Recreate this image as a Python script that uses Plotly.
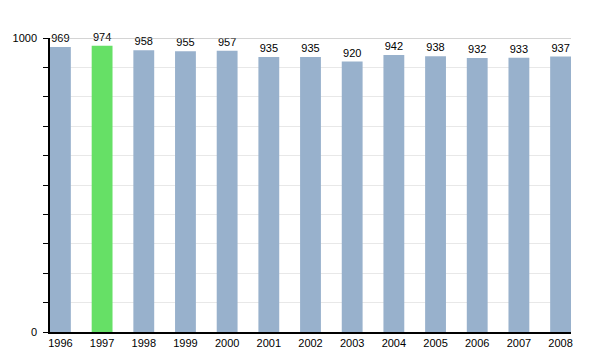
import plotly.graph_objects as go

years = ["1996","1997","1998","1999","2000","2001","2002","2003","2004","2005","2006","2007","2008"]
values = [969, 974, 958, 955, 957, 935, 935, 920, 942, 938, 932, 933, 937]
highlight = "1997"

colors = ["#66e066" if y == highlight else "#98b1cc" for y in years]

fig = go.Figure()
fig.add_trace(go.Bar(
    x=list(range(len(years))), y=values, width=0.5,
    marker=dict(color=colors, line=dict(width=0)),
    text=[str(v) for v in values], textposition="outside",
    textfont=dict(family="Liberation Sans, Arial", size=11, color="black"),
    cliponaxis=False,
))

fig.update_layout(
    width=600, height=350,
    margin=dict(l=50, r=29, t=38, b=18),
    plot_bgcolor="white", paper_bgcolor="white",
    showlegend=False,
    font=dict(family="Liberation Sans, Arial", size=11, color="black"),
    xaxis=dict(
        range=[-0.25, 12.25], tickmode="array",
        tickvals=list(range(len(years))), ticktext=years,
        showline=True, linecolor="black", linewidth=1.5,
        ticks="", ticklabelstandoff=0,
        showgrid=False, zeroline=False, automargin=False,
        tickfont=dict(size=11),
    ),
    yaxis=dict(
        range=[0, 1000], tickmode="array",
        tickvals=[0, 1000], ticktext=["0", "1000"],
        showline=True, linecolor="black", linewidth=1.5,
        ticks="outside", ticklen=5, tickcolor="black", tickwidth=1,
        showgrid=False, zeroline=False, automargin=False,
        tickfont=dict(size=11), ticklabelstandoff=4,
        minor=dict(tickmode="linear", tick0=0, dtick=100, ticks="outside",
                   ticklen=5, tickcolor="black", showgrid=True,
                   gridcolor="#e8e8e8", gridwidth=1),
    ),
)

fig.add_shape(type="line", xref="paper", yref="y", x0=0, x1=1, y0=1000, y1=1000,
              line=dict(color="#aaaaaa", width=1), layer="above")

fig.write_html("out.html")
